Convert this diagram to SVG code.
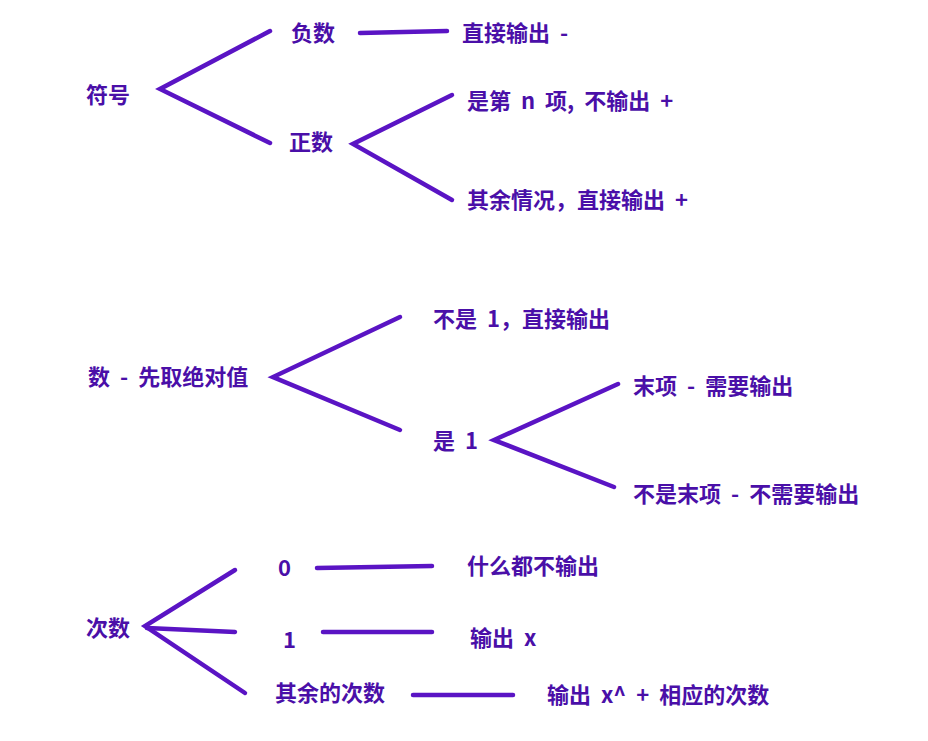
<svg xmlns="http://www.w3.org/2000/svg" width="928" height="741" viewBox="0 0 928 741">
<style>
text{font-family:"Noto Sans CJK SC","Noto Sans",sans-serif;font-size:22px;font-weight:bold;fill:#4a0fa8;word-spacing:5px}
.c line,.c polyline{stroke:#5a14c4;stroke-width:4.5;stroke-linecap:round;fill:none}
</style>
<rect width="928" height="741" fill="#fff"/>
<g class="c" id="connectors">
<polyline points="270,31 160,89 270,143"/>
<line x1="360" y1="33" x2="447" y2="31"/>
<polyline points="452,95 353,144 452,200"/>
<polyline points="400,317 273,377 400,430"/>
<polyline points="618,384 494,440 614,487"/>
<polyline points="235,570 145,626 245,693"/>
<line x1="147" y1="628" x2="235" y2="632"/>
<line x1="317" y1="568" x2="432" y2="566"/>
<line x1="323" y1="632" x2="432" y2="632"/>
<line x1="413" y1="695" x2="513" y2="695"/>
</g>
<g id="n-fuhao"><text x="86" y="103">符号</text></g>
<g id="n-fushu"><text x="291" y="41">负数</text></g>
<g id="n-fushu-out"><text x="462" y="41">直接输出 -</text></g>
<g id="n-zhengshu"><text x="289" y="150">正数</text></g>
<g id="n-zheng-n"><text x="467" y="109">是第 n 项, 不输出 +</text></g>
<g id="n-zheng-other"><text x="467" y="208">其余情况，直接输出 +</text></g>
<g id="n-shu"><text x="88" y="385">数 - 先取绝对值</text></g>
<g id="n-not1"><text x="433" y="327">不是 1，直接输出</text></g>
<g id="n-is1"><text x="433" y="449">是 1</text></g>
<g id="n-last"><text x="633" y="394">末项 - 需要输出</text></g>
<g id="n-notlast"><text x="633" y="502">不是末项 - 不需要输出</text></g>
<g id="n-cishu"><text x="86" y="636">次数</text></g>
<g id="n-0"><text x="278" y="576">0</text></g>
<g id="n-0-out"><text x="467" y="574">什么都不输出</text></g>
<g id="n-1"><text x="283" y="648">1</text></g>
<g id="n-1-out"><text x="470" y="646">输出 x</text></g>
<g id="n-other"><text x="275" y="701">其余的次数</text></g>
<g id="n-other-out"><text x="547" y="703">输出 x^ + 相应的次数</text></g>
</svg>
